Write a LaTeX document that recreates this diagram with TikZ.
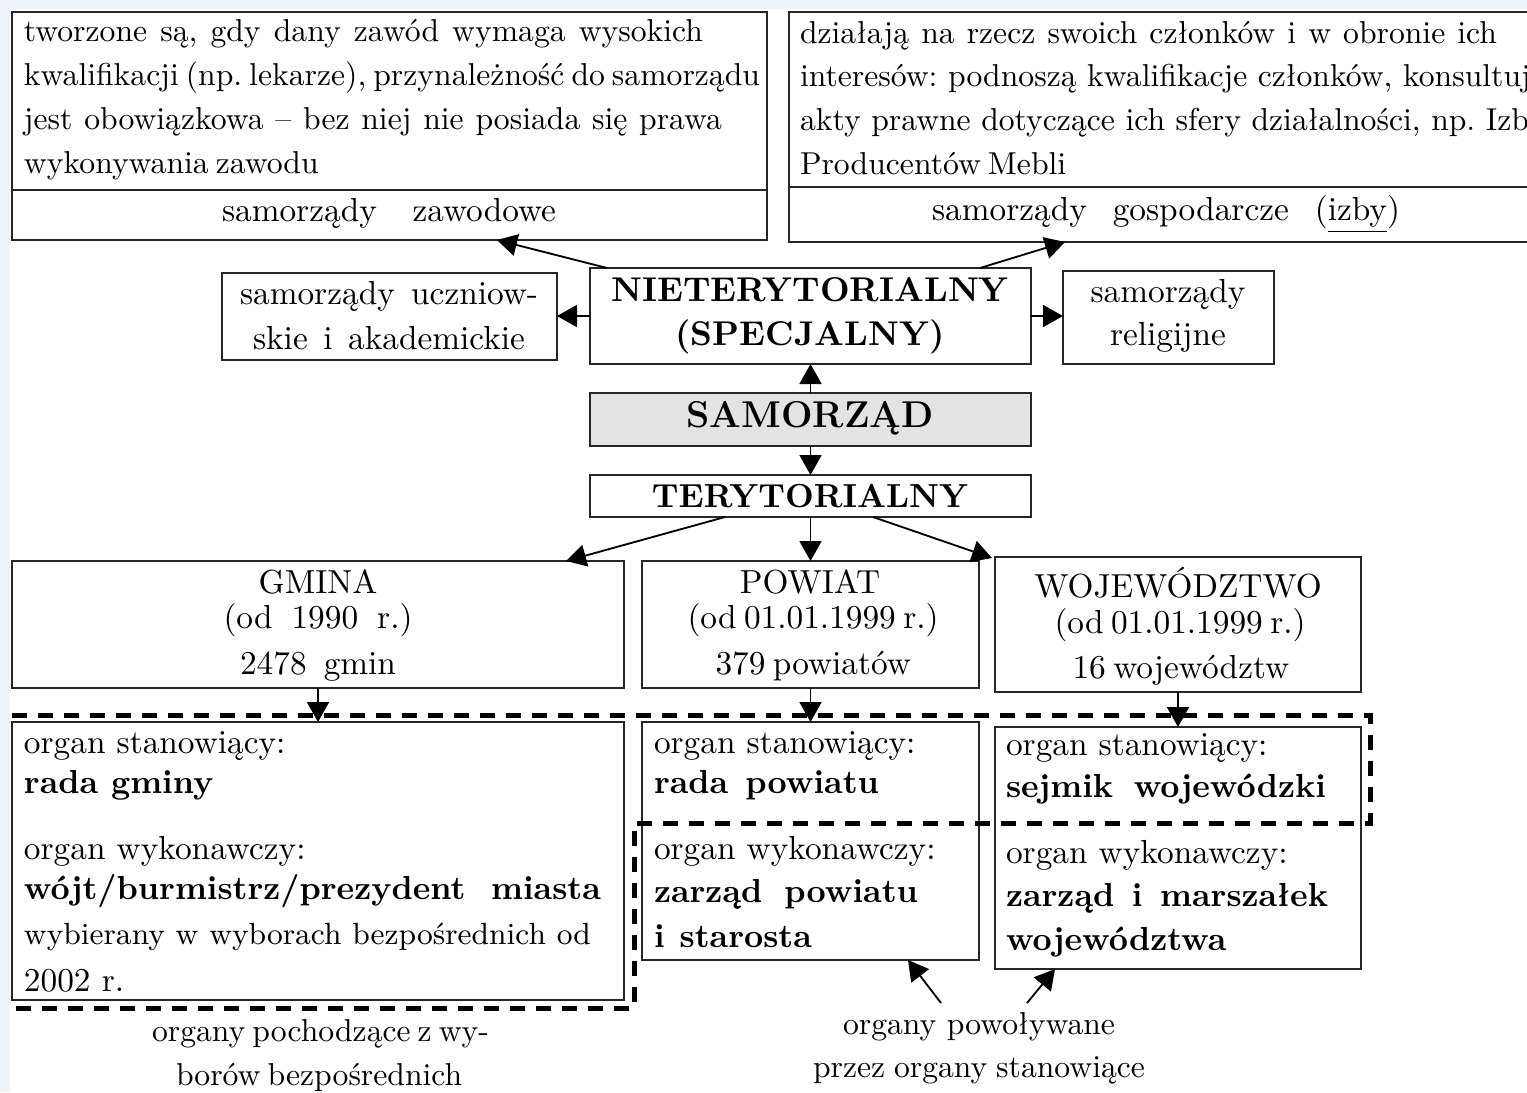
\documentclass[tikz,border=0pt]{standalone}
\usepackage{fontspec}
\usetikzlibrary{arrows.meta,calc}
\definecolor{bgblue}{HTML}{EEF3FA}
\definecolor{samgray}{HTML}{E3E3E3}
\newcommand{\sline}[2]{\makebox[\dimexpr0.3pt*#1\relax][s]{#2}}
\begin{document}
\begin{tikzpicture}[x=0.3pt,y=-0.3pt,
  box/.style={draw=black!85, line width=0.6pt, inner sep=0pt, outer sep=0pt, anchor=north west},
  txt/.style={inner sep=0pt, outer sep=0pt, font=\fontsize{10}{12}\selectfont},
  stxt/.style={inner sep=0pt, outer sep=0pt, font=\fontsize{9.5}{12}\selectfont\frenchspacing},
  btxt/.style={inner sep=0pt, outer sep=0pt, font=\fontsize{10}{12}\selectfont\bfseries},
  lt/.style={anchor=base west},
  ct/.style={anchor=base},
  arr/.style={line width=0.55pt, draw=black, -{Triangle[length=6pt,width=6.6pt]}},
  dashbox/.style={line width=1.5pt, dash pattern=on 4.4pt off 3.4pt}
]
\useasboundingbox (0,0) rectangle (1527,1092);
\clip (0,0) rectangle (1527,1092);
\fill[white] (0,0) rectangle (1527,1092);
\fill[bgblue] (0,0) rectangle (10,1092);
\fill[bgblue] (0,0) rectangle (1527,9);

% ---------- boxes ----------
\node[box, minimum width=755*0.3pt, minimum height=228*0.3pt] (zaw) at (12,12) {};
\node[box, minimum width=755*0.3pt, minimum height=230*0.3pt] (gos) at (789,12) {};
\node[box, minimum width=335*0.3pt, minimum height=87*0.3pt] (ucz) at (222,273) {};
\node[box, minimum width=441*0.3pt, minimum height=96*0.3pt] (niet) at (590,268) {};
\node[box, minimum width=211*0.3pt, minimum height=93*0.3pt] (rel) at (1063,271) {};
\node[box, fill=samgray, minimum width=441*0.3pt, minimum height=53*0.3pt] (sam) at (590,393) {};
\node[box, minimum width=441*0.3pt, minimum height=42*0.3pt] (ter) at (590,475) {};
\node[box, minimum width=612*0.3pt, minimum height=127*0.3pt] (gmina) at (12,561) {};
\node[box, minimum width=337*0.3pt, minimum height=127*0.3pt] (pow) at (642,561) {};
\node[box, minimum width=366*0.3pt, minimum height=135*0.3pt] (woj) at (995,557) {};
\node[box, minimum width=612*0.3pt, minimum height=278*0.3pt] (gorg) at (12,722) {};
\node[box, minimum width=337*0.3pt, minimum height=238*0.3pt] (porg) at (642,722) {};
\node[box, minimum width=366*0.3pt, minimum height=242*0.3pt] (worg) at (995,727) {};

\draw[line width=0.6pt, draw=black!85] (zaw.west |- 0,190) -- (zaw.east |- 0,190);
\draw[line width=0.6pt, draw=black!85] (gos.west |- 0,187) -- (gos.east |- 0,187);

% ---------- texts: top left ----------
\node[stxt,lt] (z1) at (24,41) {\sline{679}{tworzone są, gdy dany zawód wymaga wysokich}};
\node[stxt,lt] (z2) at (24,85) {\sline{733}{kwalifikacji (np. lekarze), przynależność do samorządu}};
\node[stxt,lt] (z3) at (24,129) {\sline{698}{jest obowiązkowa – bez niej nie posiada się prawa}};
\node[stxt,lt] (z4) at (24,173) {\sline{294}{wykonywania zawodu}};
\node[txt,ct] (zl) at (389,221) {\sline{334}{samorządy zawodowe}};

% ---------- texts: top right ----------
\node[stxt,lt] (g1) at (800,43) {\sline{697}{działają na rzecz swoich członków i w obronie ich}};
\node[stxt,lt] (g2) at (800,86) {interesów: podnoszą kwalifikacje członków, konsultują};
\node[stxt,lt] (g3) at (800,130) {akty prawne dotyczące ich sfery działalności, np. Izba};
\node[stxt,lt] (g4) at (800,174) {\sline{266}{Producentów Mebli}};
\node[txt,ct] (gl) at (1166,220) {\sline{468}{samorządy gospodarcze (\underline{izby})}};

% ---------- middle ----------
\node[txt,ct] (u1) at (389,304) {\sline{298}{samorządy uczniow-}};
\node[txt,ct] (u2) at (389,349) {\sline{272}{skie i akademickie}};
\node[txt,ct] (r1) at (1168,302) {samorządy};
\node[txt,ct] (r2) at (1168,345) {religijne};
\node[btxt,ct,font=\fontsize{10.3}{12}\selectfont\bfseries] (n1) at (810,301) {NIETERYTORIALNY};
\node[btxt,ct,font=\fontsize{10.3}{12}\selectfont\bfseries] (n2) at (810,345) {(SPECJALNY)};
\node[btxt,ct,font=\fontsize{11.2}{13}\selectfont\bfseries] (s1) at (810,427) {SAMORZĄD};
\node[btxt,ct] (t1) at (810,507) {TERYTORIALNY};

% ---------- units ----------
\node[txt,ct] (gm1) at (318,593) {GMINA};
\node[txt,ct] (gm2) at (318,628) {\sline{189}{(od 1990 r.)}};
\node[txt,ct] (gm3) at (318,674) {\sline{156}{2478 gmin}};
\node[txt,ct] (pw1) at (810,593) {POWIAT};
\node[txt,ct] (pw2) at (810,628) {\sline{245}{(od 01.01.1999 r.)}};
\node[txt,ct] (pw3) at (810,674) {\sline{189}{379 powiatów}};
\node[txt,ct] (wj1) at (1178,597) {WOJEWÓDZTWO};
\node[txt,ct] (wj2) at (1178,633) {\sline{247}{(od 01.01.1999 r.)}};
\node[txt,ct] (wj3) at (1178,678) {\sline{211}{16 województw}};

% ---------- organs ----------
\node[txt,lt] (go1) at (24,753) {organ stanowiący:};
\node[btxt,lt] (go2) at (24,793) {rada gminy};
\node[txt,lt] (go3) at (24,859) {organ wykonawczy:};
\node[btxt,lt] (go4) at (24,899) {\sline{577}{wójt/burmistrz/prezydent miasta}};
\node[txt,lt,font=\fontsize{9.2}{12}\selectfont] (go5) at (24,944) {\sline{567}{wybierany w wyborach bezpośrednich od}};
\node[txt,lt] (go6) at (24,991) {2002 r.};

\node[txt,lt] (po1) at (654,753) {organ stanowiący:};
\node[btxt,lt] (po2) at (654,793) {\sline{225}{rada powiatu}};
\node[txt,lt] (po3) at (654,859) {organ wykonawczy:};
\node[btxt,lt] (po4) at (654,902) {\sline{264}{zarząd powiatu}};
\node[btxt,lt] (po5) at (654,947) {\sline{158}{i starosta}};

\node[txt,lt] (wo1) at (1006,755) {organ stanowiący:};
\node[btxt,lt] (wo2) at (1006,797) {\sline{320}{sejmik wojewódzki}};
\node[txt,lt] (wo3) at (1006,863) {organ wykonawczy:};
\node[btxt,lt] (wo4) at (1006,906) {\sline{322}{zarząd i marszałek}};
\node[btxt,lt] (wo5) at (1006,950) {województwa};

% ---------- bottom labels ----------
\node[stxt,ct] (b1) at (319,1041) {\sline{334}{organy pochodzące z wy-}};
\node[stxt,ct] (b2) at (319,1085) {\sline{286}{borów bezpośrednich}};
\node[stxt,ct] (p1) at (979,1034) {\sline{272}{organy powoływane}};
\node[stxt,ct] (p2) at (979,1077) {\sline{332}{przez organy stanowiące}};
\coordinate (a1) at (941,1003);
\coordinate (a2) at (1027,1003);

% ---------- dashed outline ----------
\draw[dashbox] (12,715) -- (1370,715) -- (1370,823) -- (634,823) -- (634,1008) -- (12,1008);

% ---------- connectors ----------
\draw[arr] ($(niet.north west)+(17,0)$) -- ($(zaw.south west)+(485,0)$);
\draw[arr] ($(niet.north west)+(390,0)$) -- ($(gos.south west)+(276,0)$);
\draw[arr] (niet.west) -- (niet.west -| ucz.east);
\draw[arr] (niet.east) -- (niet.east -| rel.west);
\draw[arr] (sam.north) -- (niet.south);
\draw[arr] (sam.south) -- (ter.north);
\draw[arr] ($(ter.south west)+(135,0)$) -- ($(gmina.north west)+(554,0)$);
\draw[arr] (ter.south) -- (pow.north);
\draw[arr] ($(ter.south west)+(283,0)$) -- ($(woj.north west)+(-3,1)$);
\draw[arr] (gmina.south) -- (gorg.north);
\draw[arr] (pow.south) -- (porg.north);
\draw[arr] (woj.south) -- (worg.north);
\draw[arr] (a1) -- ($(porg.south west)+(266,0)$);
\draw[arr] (a2) -- ($(worg.south west)+(60,0)$);
\end{tikzpicture}
\end{document}
